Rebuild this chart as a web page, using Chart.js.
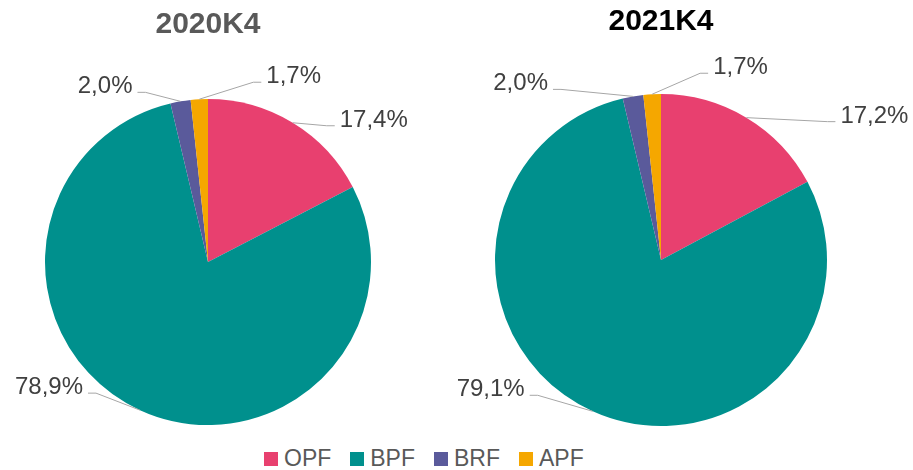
<!DOCTYPE html>
<html>
<head>
<meta charset="utf-8">
<script src="https://cdn.jsdelivr.net/npm/chart.js@4/dist/chart.umd.min.js"></script>
<style>
  body { margin: 0; width: 913px; height: 470px; background: #fff; position: relative; overflow: hidden; font-family: "Liberation Sans", Arial, sans-serif; }
  canvas { position: absolute; top: 0; }
  #left { left: 0; }
  #right { left: 456px; }
  #legend { position: absolute; left: 264px; top: 445px; display: flex; align-items: center; font-size: 23px; color: #595959; }
  #legend span.item { display: flex; align-items: center; margin-right: 19px; }
  #legend span.box { width: 14px; height: 14px; margin-right: 6px; display: inline-block; }
</style>
</head>
<body>
<canvas id="left" width="420" height="440"></canvas>
<canvas id="right" width="457" height="440"></canvas>
<div id="legend"></div>
<script>
// data
const categorias = ["OPF", "BPF", "BRF", "APF"];
const colores = ["#E8406F", "#00908D", "#5A5A9B", "#F5A700"];
const valores2020 = [17.4, 78.9, 2.0, 1.7];
const valores2021 = [17.2, 79.1, 2.0, 1.7];

// etiquetas fuera del pastel con linea guia
const etiquetas = {
  id: "etiquetas",
  afterDraw(chart, args, opts) {
    const ctx = chart.ctx;
    const meta = chart.getDatasetMeta(0);
    const vals = chart.data.datasets[0].data;
    ctx.save();
    ctx.font = "24px 'Liberation Sans', Arial, sans-serif";
    ctx.fillStyle = "#404040";
    ctx.strokeStyle = "#A6A6A6";
    ctx.lineWidth = 1;
    meta.data.forEach((arc, i) => {
      const mid = (arc.startAngle + arc.endAngle) / 2;
      const ex = arc.x + Math.cos(mid) * arc.outerRadius;
      const ey = arc.y + Math.sin(mid) * arc.outerRadius;
      const off = opts.offsets[i];
      const kx = ex + off[0];
      const ky = ey + off[1];
      const dir = off[0] >= 0 ? 1 : -1;
      const lx = kx + dir * 8;
      ctx.beginPath();
      ctx.moveTo(ex, ey);
      ctx.lineTo(kx, ky);
      ctx.lineTo(lx, ky);
      ctx.stroke();
      ctx.textAlign = dir > 0 ? "left" : "right";
      ctx.textBaseline = "alphabetic";
      const txt = vals[i].toFixed(1).replace(".", ",") + "%";
      ctx.fillText(txt, lx + dir * 5, ky + 1);
    });
    ctx.restore();
  }
};

function pastel(id, titulo, valores, colorTitulo, padding, tituloPad, offsets) {
  return new Chart(document.getElementById(id), {
    type: "pie",
    data: {
      labels: categorias,
      datasets: [{ data: valores, backgroundColor: colores, borderWidth: 0, hoverOffset: 0 }]
    },
    options: {
      responsive: false,
      animation: false,
      layout: { padding: padding },
      plugins: {
        legend: { display: false },
        tooltip: { enabled: false },
        title: {
          display: true,
          text: titulo,
          color: colorTitulo,
          font: { size: 30, weight: "bold", family: "'Liberation Sans', Arial, sans-serif" },
          padding: tituloPad
        },
        etiquetas: { offsets: offsets }
      }
    },
    plugins: [etiquetas]
  });
}

pastel("left", "2020K4", valores2020, "#595959",
  { left: 45, right: 49, top: 0, bottom: 15 }, { top: 7, bottom: 56 },
  [[34, 3], [-44, -17], [-35, -9], [54, -17]]);

pastel("right", "2021K4", valores2021, "#000000",
  { left: 39, right: 86, top: 0, bottom: 14 }, { top: 4, bottom: 54 },
  [[81, 4], [-55, -16], [-72, -7], [48, -21]]);

// leyenda comun
const leyenda = document.getElementById("legend");
categorias.forEach((c, i) => {
  leyenda.innerHTML += '<span class="item"><span class="box" style="background:' + colores[i] + '"></span>' + c + "</span>";
});
</script>
</body>
</html>
